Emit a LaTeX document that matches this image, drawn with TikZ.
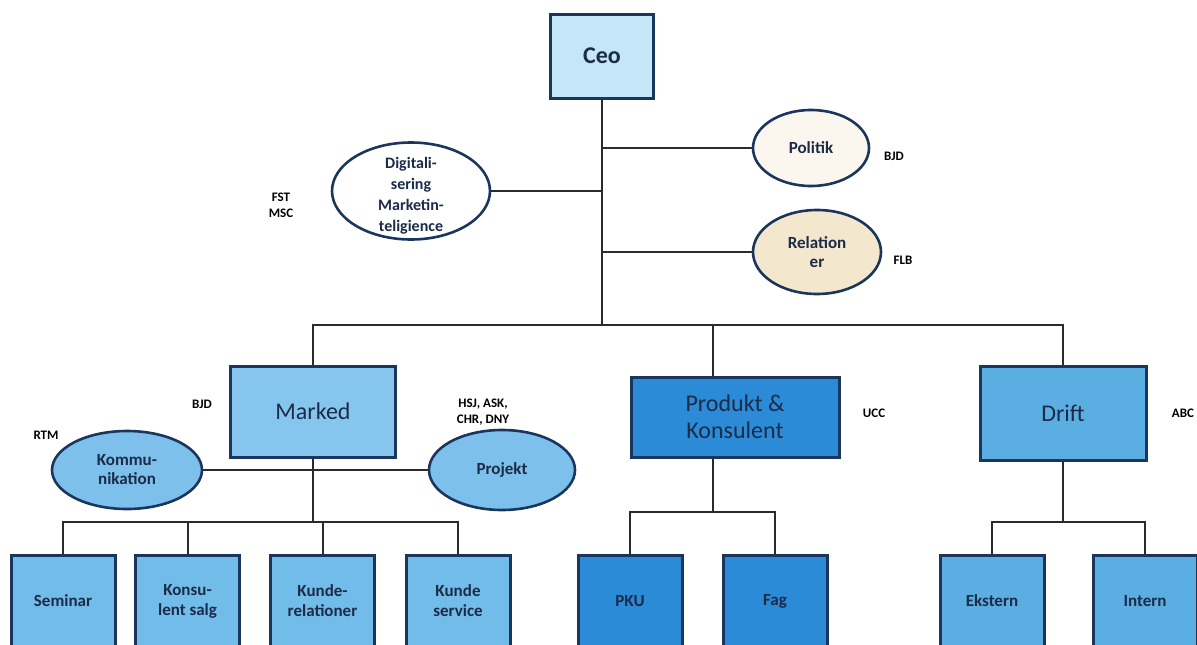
\documentclass[tikz,border=0pt]{standalone}
\usepackage{fontspec}
\setmainfont{Carlito}
\usetikzlibrary{shapes.geometric}

\definecolor{edge}{HTML}{1B365D}
\definecolor{ink}{HTML}{1C2B47}
\definecolor{wire}{HTML}{2B2B2B}
\definecolor{ceofill}{HTML}{C4E6F7}
\definecolor{markfill}{HTML}{86C5EE}
\definecolor{ovalfill}{HTML}{7DC0EC}
\definecolor{subfill}{HTML}{72BCEA}
\definecolor{prodfill}{HTML}{2B8BD6}
\definecolor{driftfill}{HTML}{5AAEE2}
\definecolor{polfill}{HTML}{FBF7EE}
\definecolor{relfill}{HTML}{F3E7CD}

\begin{document}
\begin{tikzpicture}[x=1pt,y=-1pt,
    box/.style={draw=edge,line width=3pt,text=ink,align=center,inner sep=0pt},
    head/.style={box,font=\fontsize{24}{27}\selectfont},
    subbox/.style={box,minimum width=104,minimum height=92,font=\fontsize{17}{20}\selectfont\bfseries},
    oval/.style={ellipse,draw=edge,line width=2.6pt,inner sep=0pt},
    otext/.style={text=ink,align=center,inner sep=0pt,font=\fontsize{17}{19}\selectfont\bfseries},
    tag/.style={align=center,inner sep=0pt,font=\fontsize{13}{16}\selectfont\bfseries},
    link/.style={draw=wire,line width=2pt}]
    \clip (0,0) rectangle (1197,645);

    % top level
    \node[box,fill=ceofill,minimum width=103,minimum height=84,font=\fontsize{24}{27}\selectfont\bfseries] (ceo) at (602,56) {Ceo};
    \node[oval,fill=polfill,minimum width=116,minimum height=76,label={[otext]center:Politik}] (politik) at (811,148) {};
    \node[oval,fill=relfill,minimum width=128,minimum height=84,label={[otext]center:Relation\\er}] (relation) at (817,252) {};
    \node[oval,fill=white,minimum width=158,minimum height=97,label={[otext,yshift=-5pt,font=\fontsize{16}{21}\selectfont\bfseries]center:Digitali-\\sering\\Marketin-\\teligience}] (digital) at (411,191) {};

    % departments
    \node[head,fill=markfill,minimum width=165,minimum height=91] (marked) at (313,411.5) {Marked};
    \node[head,fill=prodfill,minimum width=208,minimum height=80] (produkt) at (735,417) {Produkt \&\\Konsulent};
    \node[head,fill=driftfill,minimum width=166,minimum height=94] (drift) at (1063,413) {Drift};
    \node[oval,fill=ovalfill,minimum width=150,minimum height=78,label={[otext]center:Kommu-\\nikation}] (komm) at (127,470) {};
    \node[oval,fill=ovalfill,minimum width=146,minimum height=80,label={[otext]center:Projekt}] (projekt) at (502,470) {};

    % units
    \node[subbox,fill=subfill] (seminar) at (63,601) {Seminar};
    \node[subbox,fill=subfill] (konsulent) at (187.5,601) {Konsu-\\lent salg};
    \node[subbox,fill=subfill] (kunderel) at (322.5,601) {Kunde-\\relationer};
    \node[subbox,fill=subfill] (service) at (458,601) {Kunde\\service};
    \node[subbox,fill=prodfill] (pku) at (630,601) {PKU};
    \node[subbox,fill=prodfill] (fag) at (775,601) {Fag};
    \node[subbox,fill=driftfill] (ekstern) at (992,601) {Ekstern};
    \node[subbox,fill=driftfill] (intern) at (1145,601) {Intern};

    % initials
    \node[tag] (tpolitik) at (894,156) {BJD};
    \node[tag] (trelation) at (903,260) {FLB};
    \node[tag] (tdigital) at (281,205) {FST\\MSC};
    \node[tag] (tmarked) at (202,404) {BJD};
    \node[tag] (tkomm) at (46,435) {RTM};
    \node[tag] (tprojekt) at (483,412) {HSJ, ASK,\\CHR, DNY};
    \node[tag] (tprodukt) at (874,413) {UCC};
    \node[tag] (tdrift) at (1183,413) {ABC};

    % lines
    \coordinate (hub) at (602,325);
    \coordinate (pdrop) at (713,325);
    \coordinate (mhub) at (313,522);
    \coordinate (phub) at (713,512);
    \coordinate (dhub) at (1063,522);
    \draw[link] (ceo.south) -- (hub);
    \draw[link] (politik.west) -- (politik.west -| hub);
    \draw[link] (relation.west) -- (relation.west -| hub);
    \draw[link] (digital.east) -- (digital.east -| hub);
    \draw[link] (marked.north) |- (hub) -| (drift.north);
    \draw[link] (pdrop) -- (pdrop |- produkt.north);
    \draw[link] (komm.east) -- (projekt.west);
    \draw[link] (marked.south) -- (mhub);
    \draw[link] (seminar.north) |- (mhub) -| (service.north);
    \draw[link] (konsulent.north) -- (konsulent.north |- mhub);
    \draw[link] (kunderel.north) -- (kunderel.north |- mhub);
    \draw[link] (pdrop |- produkt.south) -- (phub);
    \draw[link] (pku.north) |- (phub) -| (fag.north);
    \draw[link] (drift.south) -- (dhub);
    \draw[link] (ekstern.north) |- (dhub) -| (intern.north);
\end{tikzpicture}
\end{document}
